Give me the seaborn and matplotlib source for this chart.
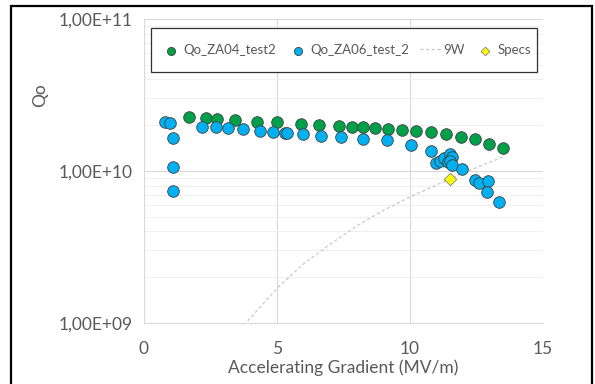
import matplotlib
matplotlib.use("Agg")
from matplotlib import pyplot as plt
from matplotlib.patches import Rectangle
from matplotlib.ticker import FuncFormatter, LogLocator, NullFormatter
import seaborn as sns

# Qo vs accelerating gradient, two cavity tests + 9W curve + spec point
za04_x = [1.70, 2.34, 2.74, 3.41, 4.25, 5.00, 5.89, 6.58, 7.33, 7.81, 8.22,
          8.68, 9.18, 9.71, 10.24, 10.80, 11.34, 11.92, 12.44, 12.97, 13.48]
za04_q = [2.28e10, 2.22e10, 2.20e10, 2.17e10, 2.11e10, 2.09e10, 2.04e10, 2.02e10,
          1.98e10, 1.96e10, 1.96e10, 1.91e10, 1.88e10, 1.86e10, 1.83e10, 1.81e10,
          1.75e10, 1.68e10, 1.62e10, 1.51e10, 1.42e10]

za06_x = [0.78, 0.98, 1.09, 1.08, 1.08, 2.17, 2.71, 3.15, 3.72, 4.36, 4.84,
          5.30, 5.39, 5.99, 6.65, 7.41, 8.22, 9.15, 10.03, 10.80, 10.98, 11.13,
          11.29, 11.43, 11.50, 11.57, 11.50, 11.57, 11.94, 12.43, 12.61, 12.92,
          12.88, 13.33]
za06_q = [2.09e10, 2.06e10, 1.65e10, 1.06e10, 7.35e9, 1.95e10, 1.96e10, 1.91e10,
          1.88e10, 1.83e10, 1.80e10, 1.78e10, 1.77e10, 1.75e10, 1.71e10, 1.68e10,
          1.62e10, 1.59e10, 1.49e10, 1.36e10, 1.13e10, 1.17e10, 1.22e10, 1.15e10,
          1.29e10, 1.24e10, 1.16e10, 1.09e10, 1.03e10, 8.67e9, 8.29e9, 8.53e9,
          7.31e9, 6.29e9]

w9_x = [3.9, 5.0, 6.0, 7.0, 8.0, 9.0, 10.0, 11.0, 12.0, 13.5]
w9_q = [1.03e9, 1.69e9, 2.45e9, 3.3e9, 4.35e9, 5.5e9, 6.75e9, 8.1e9, 9.7e9, 1.24e10]

spec_x = [11.5]
spec_q = [8.9e9]

sns.set_theme(style="white")
plt.rcParams['font.family'] = ['Lato', 'DejaVu Sans']

fig = plt.figure(figsize=(5.95, 3.84), dpi=100)
ax = fig.add_axes([0.242, 0.159, 0.6706, 0.7915])
ax.set_yscale('log')

grey = '#595959'
sns.lineplot(x=w9_x, y=w9_q, ax=ax, color='#c8c8c8', lw=0.9, linestyle=(0, (2.5, 2)),
             label='9W', zorder=2)
sns.scatterplot(x=za04_x, y=za04_q, ax=ax, color='#00a04a', edgecolor='#404040',
                linewidth=0.6, s=70, label='Qo_ZA04_test2', zorder=3)
sns.scatterplot(x=za06_x, y=za06_q, ax=ax, color='#00b0f0', edgecolor='#404040',
                linewidth=0.6, s=70, label='Qo_ZA06_test_2', zorder=4)
sns.scatterplot(x=spec_x, y=spec_q, ax=ax, color='#ffff00', edgecolor='#808080',
                marker='D', linewidth=0.6, s=40, label='Specs', zorder=5)

ax.set_xlim(0, 15)
ax.set_ylim(1e9, 1e11)
ax.set_xticks([0, 5, 10, 15])
ax.yaxis.set_major_locator(LogLocator(base=10, numticks=5))
ax.yaxis.set_minor_locator(LogLocator(base=10, subs=range(2, 10), numticks=20))
ax.yaxis.set_minor_formatter(NullFormatter())
ax.yaxis.set_major_formatter(FuncFormatter(lambda v, p: f"{v:.2E}".replace('.', ',')))

ax.grid(True, which='major', color='#d9d9d9', lw=0.8)
ax.grid(True, which='minor', axis='y', color='#f0f0f0', lw=0.8)
ax.set_axisbelow(True)
for side in ['top', 'right']:
    ax.spines[side].set_visible(False)
for side in ['left', 'bottom']:
    ax.spines[side].set_color('#d9d9d9')
    ax.spines[side].set_linewidth(0.8)

ax.tick_params(axis='both', which='both', length=0, labelsize=12.5, colors=grey, pad=8)
ax.tick_params(axis='x', pad=13)
ax.set_xlabel('Accelerating Gradient (MV/m)', fontsize=12.5, color=grey, labelpad=2)
ax.set_ylabel('Qo', fontsize=12.5, color=grey)
ax.yaxis.set_label_coords(-0.24, 0.75)

# legend box drawn separately so its size can follow the reference
box = Rectangle((0.0175, 0.826), 0.967, 0.145, transform=ax.transAxes,
                facecolor='white', edgecolor='#303030', lw=0.9, zorder=6, clip_on=False)
ax.add_patch(box)

handles, labels = ax.get_legend_handles_labels()
order = [labels.index(n) for n in ['Qo_ZA04_test2', 'Qo_ZA06_test_2', '9W', 'Specs']]
leg = ax.legend([handles[i] for i in order], [labels[i] for i in order],
                ncol=4, loc='center left', bbox_to_anchor=(0.042, 0.898),
                frameon=False, fontsize=9.5, handlelength=1.6, handletextpad=0.15,
                columnspacing=0.8, markerscale=0.7, borderpad=0, borderaxespad=0)
leg.set_zorder(7)
for t in leg.get_texts():
    t.set_color(grey)

fig.patches.append(Rectangle((11 / 595, -0.05), 581 / 595, 1 - 6 / 384 + 0.05,
                             transform=fig.transFigure, fill=False,
                             edgecolor='black', lw=1.6))

fig.savefig('out.png', dpi=100)
